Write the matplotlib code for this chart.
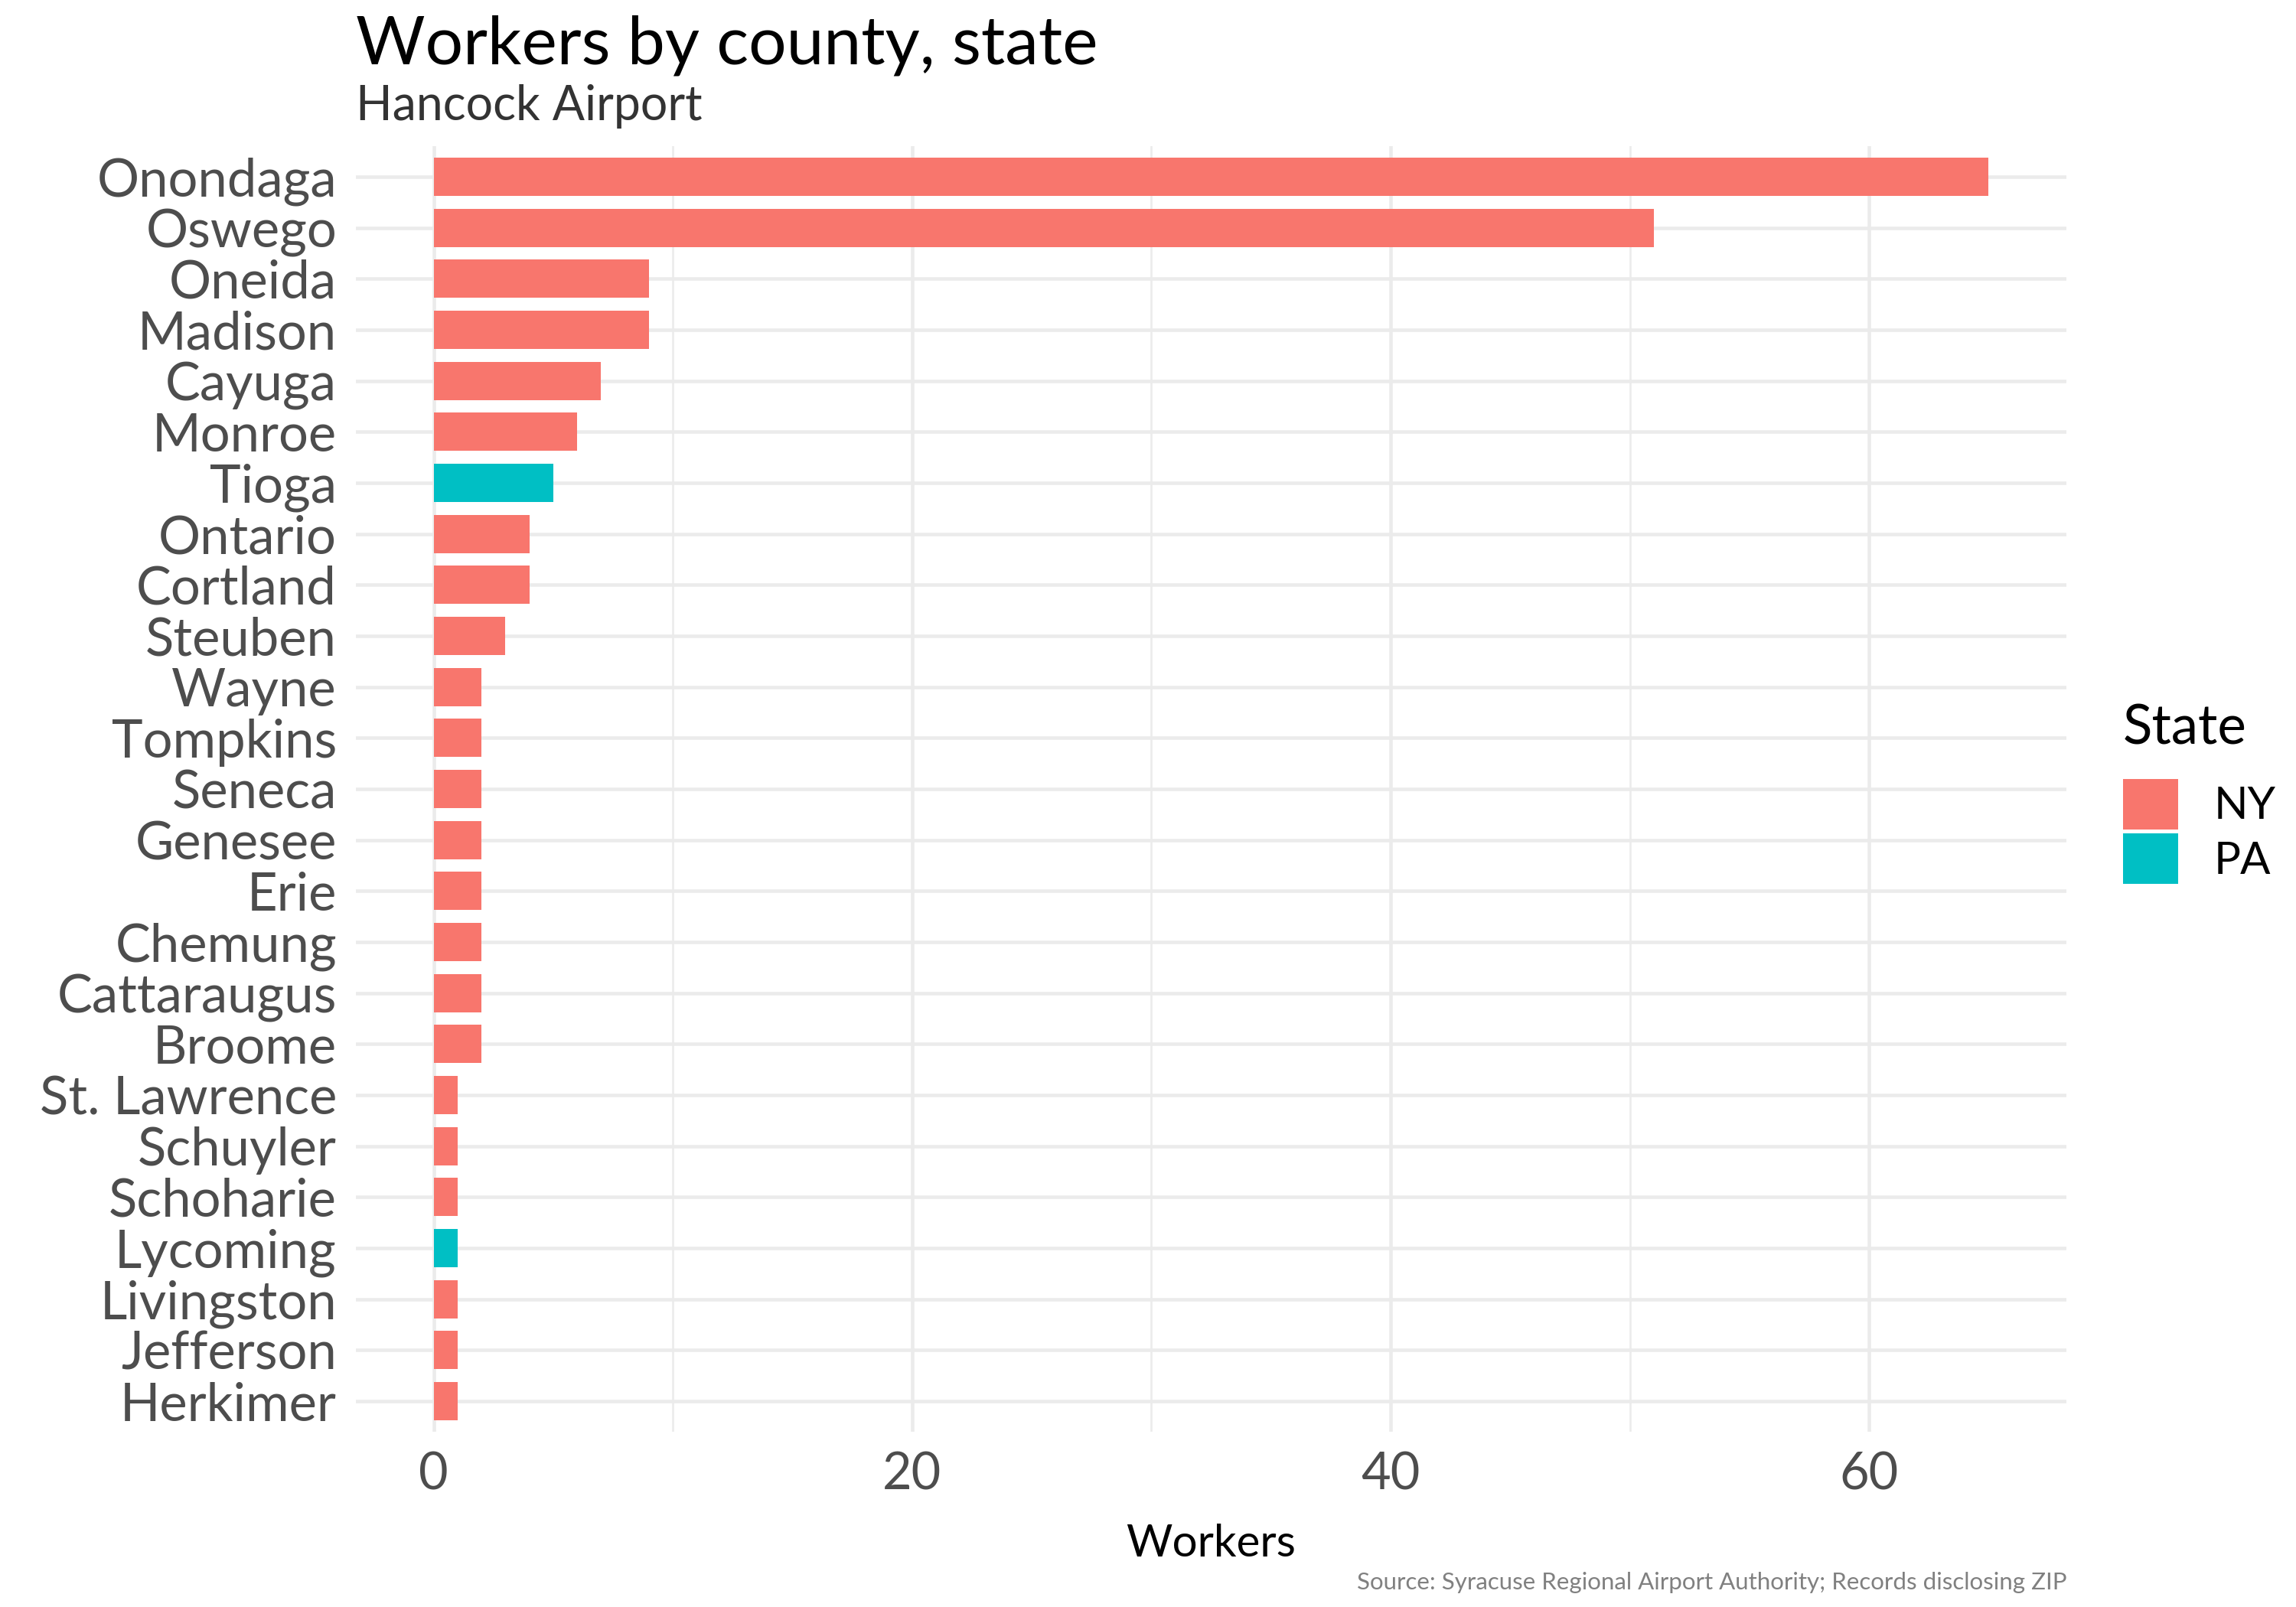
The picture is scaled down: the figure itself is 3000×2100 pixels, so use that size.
import matplotlib
matplotlib.use("Agg")
import matplotlib.pyplot as plt
from matplotlib.patches import Patch

plt.rcParams['font.family'] = ['Lato', 'DejaVu Sans']

counties = ["Onondaga", "Oswego", "Oneida", "Madison", "Cayuga", "Monroe", "Tioga",
            "Ontario", "Cortland", "Steuben", "Wayne", "Tompkins", "Seneca", "Genesee",
            "Erie", "Chemung", "Cattaraugus", "Broome", "St. Lawrence", "Schuyler",
            "Schoharie", "Lycoming", "Livingston", "Jefferson", "Herkimer"]
workers = [65, 51, 9, 9, 7, 6, 5, 4, 4, 3, 2, 2, 2, 2, 2, 2, 2, 2, 1, 1, 1, 1, 1, 1, 1]
states = ["NY", "NY", "NY", "NY", "NY", "NY", "PA", "NY", "NY", "NY", "NY", "NY", "NY",
          "NY", "NY", "NY", "NY", "NY", "NY", "NY", "NY", "PA", "NY", "NY", "NY"]
state_colors = {"NY": "#F8766D", "PA": "#00BFC4"}
x_ticks = [0, 20, 40, 60]

fig = plt.figure(figsize=(10, 7), dpi=300)
ax = fig.add_axes([0.155, 0.109, 0.745, 0.800])

n = len(counties)
ypos = [n - i for i in range(n)]
ax.barh(ypos, workers, height=0.75, color=[state_colors[s] for s in states], zorder=3)

ax.set_xlim(-3.25, 68.25)
ax.set_ylim(0.4, n + 0.6)
ax.set_yticks(ypos)
ax.set_yticklabels(counties)
ax.set_xticks(x_ticks)
ax.set_xticks([10, 30, 50], minor=True)

for y in ypos:
    ax.axhline(y, color="#EBEBEB", lw=1.1, zorder=1)
for x in x_ticks:
    ax.axvline(x, color="#EBEBEB", lw=1.1, zorder=1)
for x in [10, 30, 50]:
    ax.axvline(x, color="#EBEBEB", lw=0.6, zorder=1)

for s in ax.spines.values():
    s.set_visible(False)
ax.tick_params(axis='both', which='both', length=0)
ax.tick_params(axis='y', labelsize=16.5, labelcolor="#4D4D4D", pad=6)
ax.tick_params(axis='x', labelsize=16, labelcolor="#4D4D4D", pad=6)

ax.set_xlabel("Workers", fontsize=14, color="black", labelpad=8)

fig.text(0.155, 0.972, "Workers by county, state", fontsize=21, color="black",
         ha="left", va="center")
fig.text(0.155, 0.934, "Hancock Airport", fontsize=15, color="#333333",
         ha="left", va="center")
fig.text(0.9003, 0.015, "Source: Syracuse Regional Airport Authority; Records disclosing ZIP",
         fontsize=7.5, color="#808080", ha="right", va="center")

handles = [Patch(facecolor=state_colors[k], label=k) for k in ["NY", "PA"]]
leg = fig.legend(handles=handles, title="State", loc="center left",
                 bbox_to_anchor=(0.907, 0.506), frameon=False, fontsize=14,
                 title_fontsize=17, handlelength=1.25, handleheight=1.35,
                 handletextpad=0.8, labelspacing=0.1)
leg._legend_box.align = "left"
leg._legend_box.sep = 8

fig.savefig("out.png", dpi=300)
